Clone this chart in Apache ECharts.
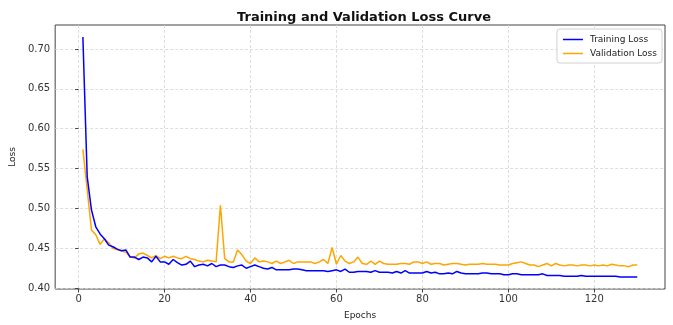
<!DOCTYPE html>
<html>
<head>
<meta charset="utf-8">
<script src="https://cdn.jsdelivr.net/npm/echarts@6/dist/echarts.min.js"></script>
<style>
  html, body { margin: 0; padding: 0; background: #fff; }
  #chart { width: 673px; height: 325px; }
</style>
</head>
<body>
<div id="chart"></div>
<script>
// loss values per epoch (1..130)
const trainLoss = [
  0.715, 0.540, 0.498, 0.477, 0.468, 0.462, 0.454, 0.452, 0.449, 0.447,
  0.448, 0.439, 0.439, 0.436, 0.439, 0.438, 0.433, 0.440, 0.433, 0.433,
  0.430, 0.436, 0.432, 0.429, 0.430, 0.434, 0.427, 0.429, 0.430, 0.428,
  0.431, 0.427, 0.429, 0.429, 0.427, 0.426, 0.428, 0.429, 0.425, 0.427,
  0.429, 0.427, 0.425, 0.424, 0.426, 0.423, 0.423, 0.423, 0.423, 0.424,
  0.424, 0.423, 0.422, 0.422, 0.422, 0.422, 0.422, 0.421, 0.422, 0.423,
  0.421, 0.424, 0.420, 0.420, 0.421, 0.421, 0.421, 0.420, 0.422, 0.420,
  0.420, 0.420, 0.419, 0.421, 0.419, 0.422, 0.419, 0.419, 0.419, 0.419,
  0.421, 0.419, 0.420, 0.418, 0.418, 0.419, 0.418, 0.421, 0.419, 0.418,
  0.418, 0.418, 0.418, 0.419, 0.419, 0.418, 0.418, 0.418, 0.417, 0.417,
  0.418, 0.418, 0.417, 0.417, 0.417, 0.417, 0.417, 0.418, 0.416, 0.416,
  0.416, 0.416, 0.415, 0.415, 0.415, 0.415, 0.416, 0.415, 0.415, 0.415,
  0.415, 0.415, 0.415, 0.415, 0.415, 0.414, 0.414, 0.414, 0.414, 0.414
];
const valLoss = [
  0.574, 0.524, 0.473, 0.467, 0.455, 0.462, 0.457, 0.450, 0.448, 0.447,
  0.445, 0.439, 0.438, 0.443, 0.444, 0.441, 0.438, 0.441, 0.437, 0.440,
  0.438, 0.440, 0.438, 0.437, 0.440, 0.437, 0.436, 0.434, 0.433, 0.435,
  0.434, 0.433, 0.504, 0.437, 0.433, 0.433, 0.448, 0.442, 0.434, 0.431,
  0.438, 0.433, 0.434, 0.433, 0.431, 0.434, 0.431, 0.433, 0.435, 0.431,
  0.433, 0.433, 0.433, 0.433, 0.431, 0.433, 0.436, 0.431, 0.451, 0.430,
  0.441, 0.434, 0.431, 0.433, 0.439, 0.431, 0.430, 0.434, 0.430, 0.434,
  0.431, 0.430, 0.430, 0.430, 0.431, 0.431, 0.430, 0.433, 0.433, 0.431,
  0.433, 0.430, 0.431, 0.431, 0.429, 0.430, 0.431, 0.431, 0.430, 0.429,
  0.430, 0.430, 0.430, 0.431, 0.430, 0.430, 0.430, 0.429, 0.429, 0.429,
  0.431, 0.432, 0.433, 0.431, 0.429, 0.429, 0.427, 0.429, 0.431, 0.428,
  0.431, 0.429, 0.428, 0.429, 0.429, 0.428, 0.429, 0.429, 0.428, 0.429,
  0.428, 0.429, 0.428, 0.430, 0.429, 0.428, 0.428, 0.427, 0.429, 0.429
];
const xTicks = [0, 20, 40, 60, 80, 100, 120];
const yTicks = [0.40, 0.45, 0.50, 0.55, 0.60, 0.65, 0.70];

const font = 'DejaVu Sans';
const toPairs = arr => arr.map((v, i) => [i + 1, v]);

const chart = echarts.init(document.getElementById('chart'));

const splitStyle = { color: '#d6d6d6', type: [3, 2], width: 0.8 };

chart.setOption({
  backgroundColor: '#fff',
  animation: false,
  title: {
    text: 'Training and Validation Loss Curve',
    left: 359,
    textAlign: 'center',
    top: 6,
    textStyle: { fontFamily: font, fontSize: 13, fontWeight: 'bold', color: '#111' }
  },
  legend: {
    right: 11,
    top: 29,
    orient: 'vertical',
    icon: 'rect',
    itemGap: 5,
    itemWidth: 20,
    itemHeight: 1.5,
    padding: [6, 5, 5, 6],
    backgroundColor: '#fff',
    borderColor: '#d0d0d0',
    borderWidth: 1,
    borderRadius: 3,
    textStyle: { fontFamily: font, fontSize: 9, color: '#222', padding: [0, 0, 0, 2] },
    data: ['Training Loss', 'Validation Loss']
  },
  grid: {
    left: 53, right: 8, top: 25, bottom: 30,
    show: true,
    borderColor: '#444',
    borderWidth: 1
  },
  xAxis: {
    type: 'value',
    min: -5.45,
    max: 136.45,
    name: 'Epochs',
    nameLocation: 'middle',
    nameGap: 22,
    nameTextStyle: { fontFamily: font, fontSize: 9, color: '#222' },
    axisLine: { show: false },
    axisTick: { show: true, length: 3.5, customValues: xTicks, lineStyle: { color: '#444' } },
    axisLabel: {
      customValues: xTicks,
      margin: 5,
      fontFamily: font, fontSize: 10, color: '#333'
    },
    splitLine: { show: true, lineStyle: splitStyle }
  },
  yAxis: {
    type: 'value',
    min: 0.399,
    max: 0.730,
    name: 'Loss',
    nameLocation: 'middle',
    nameGap: 36,
    nameTextStyle: { fontFamily: font, fontSize: 9, color: '#222' },
    axisLine: { show: false },
    axisTick: { show: true, length: 3.5, customValues: yTicks, lineStyle: { color: '#444' } },
    axisLabel: {
      customValues: yTicks,
      margin: 5,
      formatter: v => v.toFixed(2),
      fontFamily: font, fontSize: 10, color: '#333'
    },
    splitLine: { show: true, lineStyle: splitStyle }
  },
  series: [
    {
      name: 'Training Loss',
      type: 'line',
      symbol: 'none',
      data: toPairs(trainLoss),
      lineStyle: { color: '#0000ff', width: 1.5 },
      itemStyle: { color: '#0000ff' },
      z: 3
    },
    {
      name: 'Validation Loss',
      type: 'line',
      symbol: 'none',
      data: toPairs(valLoss),
      lineStyle: { color: '#ffa500', width: 1.5 },
      itemStyle: { color: '#ffa500' },
      z: 2
    }
  ]
});
</script>
</body>
</html>
